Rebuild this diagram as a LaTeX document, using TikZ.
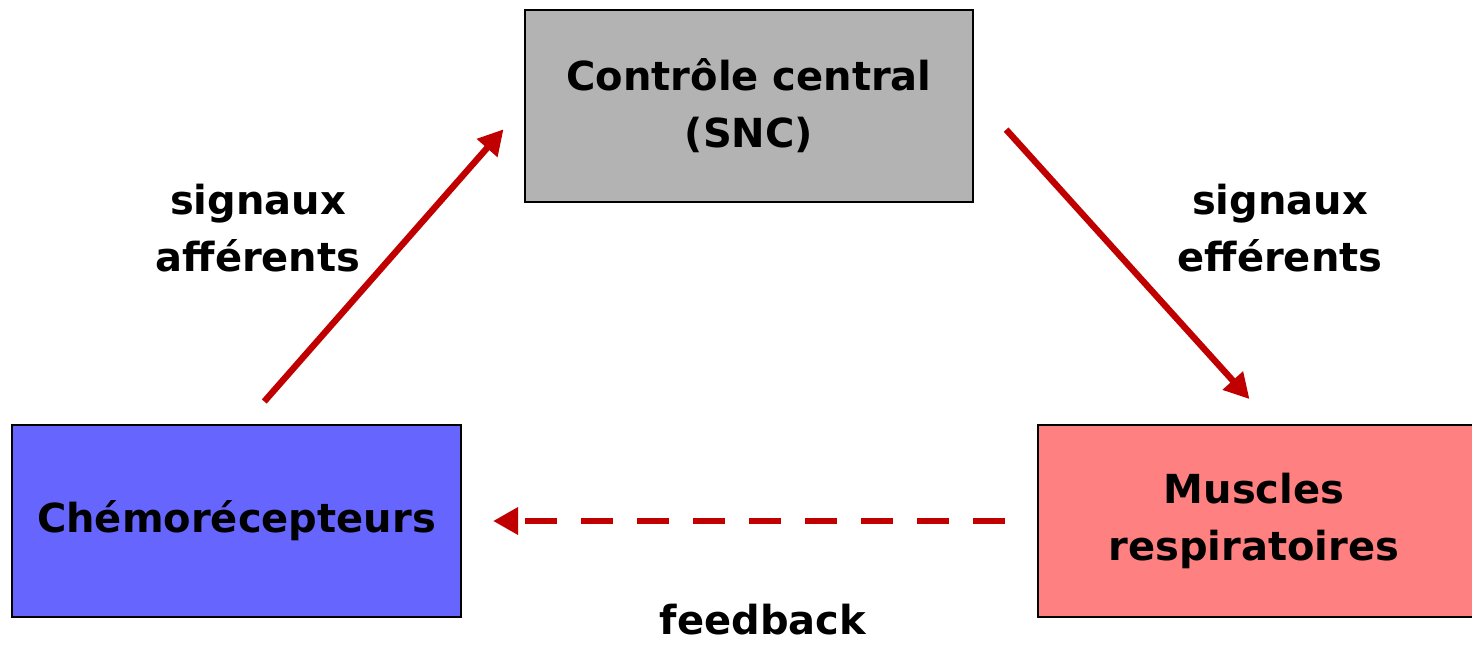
\documentclass[tikz,border=0pt]{standalone}
\usepackage{fontspec}
\setmainfont{DejaVu Sans}
\usetikzlibrary{arrows.meta}
\definecolor{arrred}{HTML}{C00000}
\definecolor{boxgray}{HTML}{B3B3B3}
\definecolor{boxblue}{HTML}{6666FF}
\definecolor{boxpink}{HTML}{FF8080}
\tikzset{
  box/.style={draw=black, line width=1pt, inner sep=0pt, align=center, font=\fontsize{20}{28.5}\selectfont\bfseries},
  lbl/.style={align=center, inner sep=0pt, font=\fontsize{20}{28.5}\selectfont\bfseries},
  arr/.style={draw=arrred, line width=3.2pt, -{Triangle[length=12.5pt,width=13pt]}},
}
\begin{document}
\begin{tikzpicture}[x=0.5pt,y=-0.5pt]
\useasboundingbox (0,0) rectangle (1472,644);
\node[box, fill=boxgray, minimum width=224pt, minimum height=96pt] (central) at (749,106) {Contrôle central\\(SNC)};
\node[box, fill=boxblue, minimum width=224.5pt, minimum height=96pt] (chemo) at (236.5,521) {Chémorécepteurs};
\node[box, fill=boxpink, minimum width=222pt, minimum height=96pt, anchor=west] (muscles) at (1037,521) {\hspace*{-6pt}Muscles\\\hspace*{-6pt}respiratoires};
\draw[arr, shorten <=15pt, shorten >=15.5pt] ([xshift=4pt]chemo.north) -- (central.west);
\draw[arr, shorten <=24pt, shorten >=16.8pt] ([yshift=6pt]central.east) -- ([xshift=6pt]muscles.north);
\draw[arr, dash pattern=on 16pt off 12pt, shorten <=16pt, shorten >=15.5pt] (muscles.west) -- (chemo.east);
\node[lbl] (aff) at (258,228) {signaux\\afférents};
\node[lbl] (eff) at (1280,228) {signaux\\efférents};
\node[lbl] (fb) at (763,620) {feedback};
\end{tikzpicture}
\end{document}
